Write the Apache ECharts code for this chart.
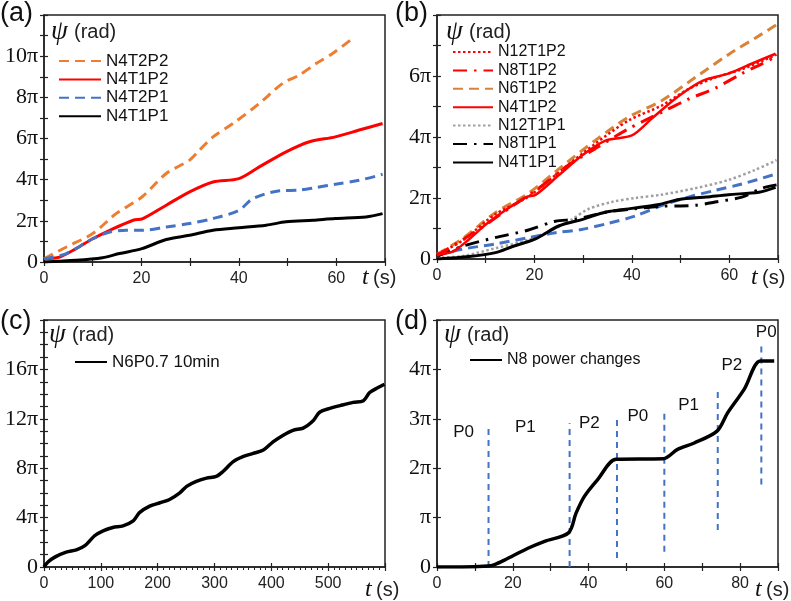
<!DOCTYPE html>
<html>
<head>
<meta charset="utf-8">
<script src="https://cdn.jsdelivr.net/npm/echarts@6/dist/echarts.min.js"></script>
<style>
  html, body { margin: 0; padding: 0; background: #fff; }
  #chart { width: 791px; height: 601px; }
</style>
</head>
<body>
<div id="chart"></div>
<script>
// values in units of pi (rad), time in s

// (a)
const aT_N4T2P2 = [0, 4.6, 10, 14.8, 20.1, 25.1, 29.9, 31.9, 34.7, 38.8, 44.2, 49, 52.4, 55.9, 59.3, 63.4]
const aPsi_N4T2P2 = [0.16, 0.73, 1.38, 2.35, 3.16, 4.3, 4.95, 5.43, 6.08, 6.73, 7.7, 8.68, 9.08, 9.65, 10.14, 10.87]
const aT_N4T1P2 = [0, 3.2, 6.6, 10, 13.5, 18.3, 20.3, 25.1, 29.9, 34.7, 40, 44.2, 49.7, 54.5, 59.8, 64.7, 69.5]
const aPsi_N4T1P2 = [0.16, 0.24, 0.65, 1.13, 1.54, 2.03, 2.11, 2.76, 3.41, 3.89, 4.05, 4.62, 5.35, 5.84, 6.08, 6.41, 6.73]
const aT_N4T2P1 = [0, 4.6, 10, 13.5, 16.9, 20.1, 25.1, 29.9, 34.7, 40, 42.9, 48.4, 52.4, 55.9, 59.8, 64.7, 69.5]
const aPsi_N4T2P1 = [0.16, 0.41, 1.13, 1.46, 1.54, 1.54, 1.7, 1.87, 2.11, 2.51, 3.08, 3.46, 3.49, 3.62, 3.78, 3.97, 4.26]
const aT_N4T1P1 = [0, 6.6, 12, 15.5, 20.1, 25.1, 29.9, 34.7, 40, 45.6, 49.7, 55.2, 59.8, 66.1, 69.5]
const aPsi_N4T1P1 = [0, 0.08, 0.21, 0.41, 0.65, 1.09, 1.3, 1.54, 1.66, 1.79, 1.95, 2.03, 2.11, 2.19, 2.35]

// (b)
const bT_N12T1P2 = [0, 5.1, 11.9, 18.8, 25.6, 32.5, 39.3, 46.1, 51.6, 57.1, 62.6, 69.7]
const bPsi_N12T1P2 = [0.16, 0.59, 1.46, 2.05, 2.92, 3.78, 4.54, 5.03, 5.57, 5.95, 6.22, 6.7]
const bT_N8T1P2 = [0, 8.6, 15.4, 20.9, 27, 32.5, 39.3, 46.1, 51.6, 57.1, 62.6, 66.7, 69.7]
const bPsi_N8T1P2 = [0.11, 0.97, 1.73, 2.32, 3.08, 3.62, 4.27, 4.81, 5.24, 5.6, 6.08, 6.4, 6.65]
const bT_N6T1P2 = [0, 5.1, 11.9, 18.8, 25.6, 32.5, 39.3, 46.1, 53, 59.8, 65.3, 69.7]
const bPsi_N6T1P2 = [0.16, 0.65, 1.51, 2.16, 3.03, 3.89, 4.65, 5.19, 5.95, 6.7, 7.24, 7.68]
const bT_N12T1P1 = [0, 5.1, 11.9, 18.8, 23.6, 27.7, 31.1, 35.9, 40.7, 46.1, 53, 59.8, 65.3, 69.7]
const bPsi_N12T1P1 = [0.05, 0.09, 0.35, 0.63, 0.95, 1.3, 1.64, 1.87, 2.0, 2.11, 2.32, 2.59, 2.92, 3.24]
const bT_N4T2P1 = [0, 5.1, 11.9, 18.8, 24.3, 29.7, 35.2, 40.7, 46.1, 51.6, 57.1, 62.6, 69.7]
const bPsi_N4T2P1 = [0.11, 0.32, 0.49, 0.7, 0.86, 0.97, 1.17, 1.41, 1.75, 2.03, 2.25, 2.46, 2.79]
const bT_N8T1P1 = [0, 5.1, 11.9, 18.8, 24.3, 28.4, 35.2, 40.7, 46.1, 53, 57.1, 62.6, 66.7, 69.7]
const bPsi_N8T1P1 = [0.09, 0.41, 0.7, 0.95, 1.24, 1.3, 1.55, 1.65, 1.73, 1.76, 1.87, 2.03, 2.32, 2.43]

// (c)
const cT = [0, 7, 19, 39, 57, 72, 89, 104, 121, 139, 157, 168, 186, 204, 221, 239, 251, 268, 286, 303, 315, 333, 350, 368, 386, 403, 421, 438, 456, 474, 485, 503, 521, 544, 562, 573, 588, 599]
const cPsi = [0, 0.4, 0.8, 1.2, 1.39, 1.73, 2.53, 2.93, 3.2, 3.33, 3.73, 4.4, 4.93, 5.2, 5.47, 6.0, 6.53, 6.93, 7.2, 7.33, 7.73, 8.53, 8.93, 9.2, 9.47, 10.13, 10.67, 11.07, 11.25, 11.87, 12.53, 12.85, 13.07, 13.33, 13.47, 14.13, 14.53, 14.8]

// (d)
const dT = [0, 6.6, 13.4, 15.2, 17.8, 24, 28.4, 34.7, 36.7, 38.9, 42.4, 47.3, 59.7, 63.5, 67.9, 73.9, 76.7, 81.1, 85.3, 89]
const dPsi = [0, 0, 0.02, 0.05, 0.14, 0.38, 0.52, 0.69, 1.09, 1.43, 1.77, 2.18, 2.19, 2.38, 2.51, 2.75, 3.12, 3.6, 4.17, 4.17]
const dSwitchT = [13.6, 35, 47.5, 60, 74.1, 85.6]
const dSwitchLow = [0, 0, 0.18, 0.31, 0.75, 1.67]
const dSwitchHigh = [2.87, 2.91, 3.04, 3.18, 3.63, 4.51]
const dPhaseText = ['P0', 'P1', 'P2', 'P0', 'P1', 'P2', 'P0']
const dPhaseT = [7, 23.3, 40.2, 53, 66.4, 77.8, 86.9]
const dPhasePsi = [2.72, 2.82, 2.91, 3.05, 3.27, 4.09, 4.75]

const piFmt = v => v === 0 ? '0' : (v === 1 ? 'π' : v + 'π')

let myChart = echarts.init(document.getElementById('chart'))

const grids = [
    { left: 44, top: 15, width: 341, height: 247 },   // a
    { left: 437, top: 15, width: 341, height: 244 },  // b
    { left: 44, top: 320, width: 341, height: 247 },  // c
    { left: 437, top: 320, width: 341, height: 247 }  // d
]

// main axis + a shadow axis with inner ticks so the ticks cross the axis line
function xPair(g, max, interval, labelFn, minor) {
    const main = {
        type: 'value', gridIndex: g, position: 'bottom', min: 0, max: max, interval: interval,
        axisLine: { lineStyle: { color: '#222', width: 1.5 } },
        axisTick: { length: 4, lineStyle: { color: '#222', width: 1.2 } },
        minorTick: minor ? { show: true, splitNumber: minor, length: 3, lineStyle: { color: '#222' } } : { show: false },
        splitLine: { show: false },
        axisLabel: { margin: 9, fontFamily: 'Liberation Sans', fontSize: 16, color: '#222', formatter: labelFn }
    }
    const shadow = {
        type: 'value', gridIndex: g, position: 'bottom', min: 0, max: max, interval: interval,
        axisLine: { show: false }, axisLabel: { show: false }, splitLine: { show: false },
        axisTick: { inside: true, length: 4, lineStyle: { color: '#222', width: 1.2 } }
    }
    return [main, shadow]
}
function yPair(g, max, labelFn) {
    const main = {
        type: 'value', gridIndex: g, position: 'left', min: 0, max: max, interval: 1,
        axisLine: { show: true, lineStyle: { color: '#222', width: 1.5 } },
        axisTick: { show: true, length: 4, lineStyle: { color: '#222', width: 1.2 } },
        splitLine: { show: false },
        axisLabel: { margin: 6, fontFamily: 'Liberation Serif', fontSize: 22, color: '#111', formatter: labelFn }
    }
    const shadow = {
        type: 'value', gridIndex: g, position: 'left', min: 0, max: max, interval: 1,
        axisLine: { show: false }, axisLabel: { show: false }, splitLine: { show: false },
        axisTick: { show: true, inside: true, length: 4, lineStyle: { color: '#222', width: 1.2 } }
    }
    return [main, shadow]
}

const xAxes = [
    ...xPair(0, 70, 10, v => (v % 20 === 0 && v < 70) ? String(v) : ''),
    ...xPair(1, 70, 10, v => (v % 20 === 0 && v < 70) ? String(v) : ''),
    ...xPair(2, 600, 100, v => v < 600 ? String(v) : '', 10),
    ...xPair(3, 90, 10, v => (v % 20 === 0 && v < 90) ? String(v) : '')
]
const yAxes = [
    ...yPair(0, 12, v => (v % 2 === 0 && v < 12) ? piFmt(v) : ''),
    ...yPair(1, 8, v => (v % 2 === 0 && v < 8) ? piFmt(v) : ''),
    ...yPair(2, 20, v => (v % 4 === 0 && v < 20) ? piFmt(v) : ''),
    ...yPair(3, 5, v => v < 5 ? piFmt(v) : '')
]

function line(name, g, t, psi, color, width, dash, z) {
    return {
        type: 'line', name: name, xAxisIndex: 2 * g, yAxisIndex: 2 * g,
        data: t.map((v, i) => [v, psi[i]]),
        symbol: 'none', showSymbol: false, smooth: 0.3, z: z || 2,
        lineStyle: { color: color, width: width, type: dash || 'solid' },
        itemStyle: { color: color }
    }
}

const ORANGE = '#ED7D31', RED = '#FF0000', BLUE = '#4472C4', BROWN = '#D8833A', GRAY = '#A0A0A0'
const dashed = [10, 6], dotted = [2.5, 2.5], dashDot = [14, 7, 2.5, 7]

const series = [
    line('N4T2P2', 0, aT_N4T2P2, aPsi_N4T2P2, ORANGE, 3, dashed),
    line('N4T1P2', 0, aT_N4T1P2, aPsi_N4T1P2, RED, 3),
    line('N4T2P1', 0, aT_N4T2P1, aPsi_N4T2P1, BLUE, 3, dashed),
    line('N4T1P1', 0, aT_N4T1P1, aPsi_N4T1P1, '#000', 3),

    line('N12T1P1', 1, bT_N12T1P1, bPsi_N12T1P1, GRAY, 2.5, dotted),
    line('N4T2P1', 1, bT_N4T2P1, bPsi_N4T2P1, BLUE, 3, dashed),
    line('N8T1P1', 1, bT_N8T1P1, bPsi_N8T1P1, '#000', 3, dashDot),
    line('N4T1P1', 1, aT_N4T1P1, aPsi_N4T1P1, '#000', 3),
    line('N6T1P2', 1, bT_N6T1P2, bPsi_N6T1P2, BROWN, 3, dashed),
    line('N12T1P2', 1, bT_N12T1P2, bPsi_N12T1P2, RED, 2.5, dotted),
    line('N8T1P2', 1, bT_N8T1P2, bPsi_N8T1P2, RED, 3, dashDot),
    line('N4T1P2', 1, aT_N4T1P2, aPsi_N4T1P2, RED, 2.5),

    line('N6P0.7 10min', 2, cT, cPsi, '#000', 3.5),

    line('N8 power changes', 3, dT, dPsi, '#000', 3.5, null, 5)
]
// power switching instants in (d)
dSwitchT.forEach((t, i) => {
    series.push({
        type: 'line', xAxisIndex: 6, yAxisIndex: 6, symbol: 'none', silent: true, z: 1,
        data: [[t, dSwitchLow[i]], [t, dSwitchHigh[i]]],
        lineStyle: { color: BLUE, width: 2, type: [6, 5] }
    })
})
series.push({
    type: 'scatter', xAxisIndex: 6, yAxisIndex: 6, symbolSize: 0, silent: true,
    itemStyle: { color: '#fff', opacity: 1 },
    data: dPhaseT.map((t, i) => ({ value: [t, dPhasePsi[i]], name: dPhaseText[i] })),
    label: { show: true, position: 'inside', formatter: '{b}', fontFamily: 'Liberation Sans', fontSize: 17, color: '#111', opacity: 1 }
})

function legend(left, top, names, width, fontSize) {
    return {
        orient: 'vertical', left: left, top: top, padding: 0, itemGap: 0.4,
        itemWidth: width, itemHeight: 10, data: names,
        selectedMode: false,
        itemStyle: { opacity: 0 },
        textStyle: { fontFamily: 'Liberation Sans', fontSize: fontSize, color: '#111', lineHeight: 18 }
    }
}

function label(x, y, sym, unit) {
    const isT = sym === 't'
    return [
        { type: 'text', x: x, y: y, style: { text: sym, font: 'italic ' + (isT ? 24 : 27) + 'px "Liberation Serif"', fill: '#111', verticalAlign: 'middle' } },
        { type: 'text', x: x + (isT ? 11 : 23), y: y, style: { text: unit, font: '20px "Liberation Sans"', fill: '#222', verticalAlign: 'middle' } }
    ]
}
function letter(x, y, txt) {
    return { type: 'text', x: x, y: y, style: { text: txt, font: '27px "Liberation Sans"', fill: '#111', verticalAlign: 'middle' } }
}

const option = {
    animation: false,
    backgroundColor: '#fff',
    grid: grids.map(g => Object.assign({ show: true, borderColor: '#222', borderWidth: 1.5 }, g)),
    xAxis: xAxes,
    yAxis: yAxes,
    legend: [
        legend(58, 52, ['N4T2P2', 'N4T1P2', 'N4T2P1', 'N4T1P1'], 42, 17),
        legend(452, 43, ['N12T1P2', 'N8T1P2', 'N6T1P2', 'N4T1P2', 'N12T1P1', 'N8T1P1', 'N4T1P1'], 40, 16),
        legend(74, 353, ['N6P0.7 10min'], 32, 17),
        legend(469, 351, ['N8 power changes'], 32, 16)
    ],
    graphic: [
        letter(0, 14, '(a)'), letter(395, 14, '(b)'), letter(0, 322, '(c)'), letter(395, 322, '(d)'),
        ...label(51, 32, 'ψ', '(rad)'), ...label(446, 32, 'ψ', '(rad)'),
        ...label(49, 335, 'ψ', '(rad)'), ...label(444, 335, 'ψ', '(rad)'),
        ...label(362, 278, 't', '(s)'), ...label(751, 278, 't', '(s)'),
        ...label(365, 590, 't', '(s)'), ...label(755, 590, 't', '(s)')
    ],
    series: series
}

myChart.setOption(option)
</script>
</body>
</html>
